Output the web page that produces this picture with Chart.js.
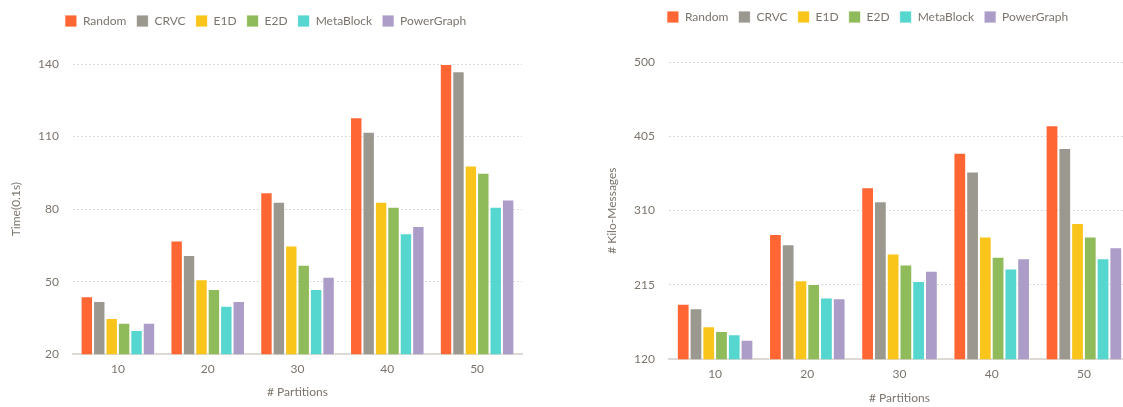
<!DOCTYPE html>
<html>
<head>
<meta charset="utf-8">
<script src="https://cdn.jsdelivr.net/npm/chart.js@4"></script>
<style>
  html, body { margin: 0; padding: 0; background: #fff; overflow: hidden; width: 1123px; height: 407px; }
  #left { position: absolute; left: 0; top: 0; width: 545px; height: 407px; }
  #right { position: absolute; left: 600px; top: 0; width: 530px; height: 412px; }
</style>
</head>
<body>
<div id="left"><canvas id="timeChart"></canvas></div>
<div id="right"><canvas id="msgChart"></canvas></div>
<script>
// partitions on the x axis
var partitions = ["10", "20", "30", "40", "50"];
var methods = ["Random", "CRVC", "E1D", "E2D", "MetaBlock", "PowerGraph"];
var colors = ["#FF6633", "#9B9890", "#F9C51A", "#8FBB5A", "#55D6CE", "#AB9CC8"];

// running time, in 0.1s
var timeRandom     = [44, 67, 87, 118, 140];
var timeCRVC       = [42, 61, 83, 112, 137];
var timeE1D        = [35, 51, 65, 83, 98];
var timeE2D        = [33, 47, 57, 81, 95];
var timeMetaBlock  = [30, 40, 47, 70, 81];
var timePowerGraph = [33, 42, 52, 73, 84];
var timeTicks = [20, 50, 80, 110, 140];

// messages, in thousands
var msgRandom     = [191, 280, 340, 384, 419];
var msgCRVC       = [185, 267, 322, 360, 390];
var msgE1D        = [162, 221, 255, 277, 294];
var msgE2D        = [156, 216, 241, 251, 277];
var msgMetaBlock  = [152, 199, 220, 236, 249];
var msgPowerGraph = [145, 198, 233, 249, 263];
var msgTicks = [120, 215, 310, 405, 500];

var textColor = "#7b746c";
var fontFamily = "Lato, sans-serif";

function makeDatasets(series) {
	var ds = [];
	for (i = 0; i < series.length; i++) {
		ds.push({
			label: methods[i],
			data: series[i],
			backgroundColor: colors[i],
			borderColor: "rgba(255,255,255,0.8)",
			borderWidth: 1,
			categoryPercentage: 0.83,
			barPercentage: 1.0
		});
	}
	return ds;
}

// extra room between the legend and the plot
function legendGap(gap) {
	return {
		id: 'legendGap',
		beforeLayout: function (chart) {
			var lg = chart.legend;
			if (lg && !lg._gapWrapped) {
				var fit = lg.fit;
				lg.fit = function () {
					fit.call(this);
					this.height += gap;
				};
				lg._gapWrapped = true;
			}
		}
	};
}

function makeChart(id, series, ticks, yTitle, pad, gap, titlePad) {
	var ctx = document.getElementById(id).getContext('2d');
	return new Chart(ctx, {
		type: 'bar',
		data: {
			labels: partitions,
			datasets: makeDatasets(series)
		},
		plugins: [legendGap(gap)],
		options: {
			responsive: true,
			maintainAspectRatio: false,
			animation: false,
			layout: { padding: pad },
			plugins: {
				legend: {
					display: true,
					labels: {
						boxWidth: 12,
						boxHeight: 12,
						padding: 10,
						color: textColor,
						font: { family: fontFamily, size: 12 }
					}
				},
				tooltip: { enabled: false }
			},
			scales: {
				x: {
					grid: { display: false, drawTicks: false },
					border: { display: true, color: "#dcd8d3", width: 2 },
					ticks: { color: textColor, padding: 8, font: { family: fontFamily, size: 12 } },
					title: {
						display: true,
						text: "# Partitions",
						color: textColor,
						padding: { top: titlePad, bottom: 0 },
						font: { family: fontFamily, size: 12 }
					}
				},
				y: {
					min: ticks[0],
					max: ticks[ticks.length - 1],
					afterBuildTicks: function (axis) {
						axis.ticks = ticks.map(function (v) { return { value: v }; });
					},
					afterFit: function (axis) {
						axis.width = 64;
					},
					grid: { color: "#d9d9d9", drawTicks: false },
					border: { display: false, dash: [2, 2] },
					ticks: { color: textColor, padding: 14, font: { family: fontFamily, size: 12 } },
					title: {
						display: true,
						text: yTitle,
						color: textColor,
						padding: { top: 0, bottom: 10 },
						font: { family: fontFamily, size: 12 }
					}
				}
			}
		}
	});
}

makeChart("timeChart",
	[timeRandom, timeCRVC, timeE1D, timeE2D, timeMetaBlock, timePowerGraph],
	timeTicks, "Time(0.1s)", { left: 9, right: 23, top: 5, bottom: 8 }, 27, 0);

makeChart("msgChart",
	[msgRandom, msgCRVC, msgE1D, msgE2D, msgMetaBlock, msgPowerGraph],
	msgTicks, "# Kilo-Messages", { left: 5, right: 0, top: 1, bottom: 7 }, 29, 1);
</script>
</body>
</html>
